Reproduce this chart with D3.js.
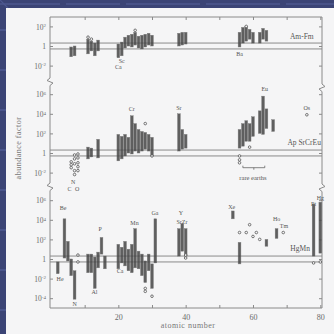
<!DOCTYPE html>
<html><head><meta charset="utf-8">
<script src="https://cdn.jsdelivr.net/npm/d3@7"></script>
<style>html,body{margin:0;padding:0;background:#3b4475;}svg{display:block;}</style>
</head><body>
<svg id="c" width="334" height="334"></svg>
<script>
// ---------- DATA ----------
const panelNames = ["Am-Fm", "Ap SrCrEu", "HgMn"];
const xTickValues = [10, 20, 30, 40, 50, 60, 70, 80];
const xTickLabels = ["", "20", "", "40", "", "60", "", "80"];
const yTicksTop = [2, 0, -2];
const yTicksMid = [6, 4, 2, 0, -2];
const yTicksBot = [6, 4, 2, 0, -2, -4];
// columns: [atomic number, lowest log10 factor, highest log10 factor]
const colsTop = [[6,-1.0,-0.2],[7,-0.9,-0.1],
  [11,-0.7,0.6],[12,-0.4,0.4],[13,-0.9,0.2],[14,-0.4,0.5],
  [20,-1.1,0.1],[21,-0.9,0.3],
  [22,-0.1,0.8],[23,0.1,1.0],[24,0.0,1.1],[25,0.2,1.3],[26,-0.1,0.9],[27,-0.2,1.0],[28,0.0,1.1],[29,0.2,1.2],[30,0.1,1.0],
  [38,0.1,1.2],[39,0.2,1.3],[40,0.3,1.3],
  [56,0.0,1.3],[57,0.4,1.8],[58,0.6,1.9],[59,0.8,1.6],[60,0.4,1.3],
  [62,0.4,1.3],[63,0.8,1.7],[64,0.6,1.5]];
const colsMid = [[11,-0.5,0.5],[12,-0.3,0.4],[14,-0.4,1.3],
  [20,-0.7,1.8],[21,-0.5,1.6],[22,-0.2,1.8],[23,0.1,1.5],[24,0.0,3.7],[25,0.3,2.9],[26,0.1,2.3],[27,0.3,2.1],[28,0.5,2.0],[29,0.3,1.8],[30,-0.2,1.5],
  [38,0.3,3.9],[39,0.5,2.3],[40,0.6,1.8],
  [56,0.6,2.3],[57,0.8,2.9],[58,1.3,3.2],[59,1.3,2.9],[60,1.8,3.6],[62,2.1,4.2],[63,2.0,5.7],[64,2.6,4.4],[66,2.3,3.3]];
const colsBot = [[2,-1.4,-0.4],[4,0.2,4.0],[5,-0.1,1.7],[6,-1.6,-0.1],[7,-4.0,-1.3],
  [11,-1.3,0.4],[12,-1.3,0.4],[13,-2.9,0.1],[14,-0.8,0.6],[15,0.6,2.1],[16,-0.9,0.2],
  [20,-0.9,1.4],[21,-0.3,1.1],[22,-0.6,1.7],[23,-1.1,0.9],[24,-1.3,1.4],[25,-0.8,3.0],[26,-0.9,0.7],[27,-1.6,0.4],[28,-2.3,-0.3],[29,-1.1,0.4],[30,-2.9,-0.6],[31,-0.3,4.0],
  [38,0.4,3.0],[39,0.9,3.5],[40,0.4,3.0],
  [54,4.2,4.8],[56,-0.4,1.6],[64,1.4,1.9],[67,2.2,3.0],[78,0.4,5.5],[80,0.7,5.7]];
// single stars: [atomic number, log10 factor]
const ptsTop = [[11,0.9],[12,0.7],[25,1.6],[58,2.0]];
const ptsMid = [[6,-0.9],[6,-1.2],[6,-1.5],[7,-0.2],[7,-0.6],[7,-1.1],[7,-1.8],[7,-2.2],[8,-0.1],[8,-0.5],[8,-1.0],[8,-1.4],[8,-1.8],
  [28,3.0],[30,-0.3],[56,-0.3],[56,-0.7],[56,-1.0],[59,0.6],[76,3.9]];
const ptsBot = [[8,0.4],[8,-0.3],[28,-3.0],[28,-3.3],[30,-3.8],[56,2.7],[59,3.5],[58,2.7],[61,2.7],[60,2.3],[62,2.0],[40,0.4],[40,0.1],[69,2.7],[78,-0.4],[80,-0.3]];
// element labels: [text, atomic number, log10 factor]
const labTop = [["Sc",21,-1.5],["Ca",20,-2.1],["Ba",56,-0.8]];
const labMid = [["Cr",24,4.5],["Sr",38,4.6],["Eu",63.5,6.5],["Os",76,4.6],["C",5.5,-3.7],["N",6.6,-2.9],["O",7.8,-3.7],["rare earths",60,-2.55]];
const labBot = [["Be",3.6,5.2],["He",2.7,-2.0],["N",7,-4.6],["Al",12.9,-3.4],["P",14.6,3.1],["Ca",20.5,-1.2],["Mn",24.8,3.7],["Ga",30.9,4.7],
  ["Y",38.6,4.7],["SrZr",38.9,3.8],["Xe",53.7,5.3],["Ho",67,4.1],["Tm",69.2,3.4],["Pt",78,5.6],["Hg",80,6.2]];
const rareEarthSpan = [57, 63.5, -1.5];
const xTitle = "atomic number";
const yTitle = "abundance factor";

// ---------- LAYOUT ----------
const svg = d3.select("#c");
const L = 50, R = 322, T = 17, B = 308;
const dec = 9.8;
const panelUnity = [46, 153, 259];
const panelDomains = [[-3, 3], [-4, 7], [-5, 7]];
const ys = panelUnity.map((u, i) => d3.scaleLog()
  .domain(panelDomains[i].map(e => Math.pow(10, e)))
  .range(panelDomains[i].map(e => u - dec * e)));
const x = d3.scaleLinear().domain([0, 80.5]).range([L + 1, R]);
const P = e => Math.pow(10, e);
const FONT = "Liberation Serif, serif";

// background
svg.append("rect").attr("width", 334).attr("height", 334).attr("fill", "#3b4475");
const bg = svg.append("g").attr("stroke", "#56619a").attr("stroke-width", 1.2);
[[0,4,60,4],[66,4,120,4],[126,4,200,4],[206,4,280,4],[286,4,334,4]].forEach(s=>bg.append("line").attr("x1",s[0]).attr("y1",s[1]).attr("x2",s[2]).attr("y2",s[3]));
[30,70,110,150,190,230,270,310].forEach(yy=>bg.append("line").attr("x1",0).attr("x2",6).attr("y1",yy).attr("y2",yy));
bg.append("line").attr("x1",0).attr("y1",0).attr("x2",8).attr("y2",8).attr("stroke","#4d5890");
svg.append("rect").attr("x", 6).attr("y", 8).attr("width", 328).attr("height", 326).attr("fill", "#f5f5f6");

const frame = svg.append("g").attr("fill", "none").attr("stroke", "#8a8a8a").attr("stroke-width", 1);
frame.append("line").attr("x1", L).attr("x2", R).attr("y1", T).attr("y2", T);
frame.append("line").attr("x1", L).attr("x2", R).attr("y1", B).attr("y2", B);
function axisWithBreaks(xx, breaks, dir) {
  let d = `M${xx},${T}`;
  breaks.forEach(b => {
    d += `L${xx},${b}L${xx + 3*dir},${b + 2.5}L${xx - 3*dir},${b + 5}L${xx},${b + 7.5}`;
  });
  d += `L${xx},${B}`;
  frame.append("path").attr("d", d);
}
axisWithBreaks(L, [78, 183], -1);
axisWithBreaks(R, [84, 184], 1);

const xb = svg.append("g").attr("transform", `translate(0,${B})`)
  .call(d3.axisBottom(x).tickValues(xTickValues).tickSizeInner(-3).tickSizeOuter(0).tickPadding(6)
    .tickFormat((d, i) => xTickLabels[i]));
const xt = svg.append("g").attr("transform", `translate(0,${T})`)
  .call(d3.axisTop(x).tickValues(xTickValues).tickSizeInner(-3).tickSizeOuter(0).tickFormat(""));
[xb, xt].forEach(g => {
  g.select(".domain").remove();
  g.selectAll("line").attr("stroke", "#8a8a8a");
  g.selectAll("text").attr("fill", "#6a6a6a").attr("font-family", FONT).attr("font-size", 8);
});

const yTickSets = [yTicksTop, yTicksMid, yTicksBot];
ys.forEach((y, i) => {
  const gl = svg.append("g").attr("transform", `translate(${L},0)`)
    .call(d3.axisLeft(y).tickValues(yTickSets[i].map(P)).tickSizeInner(-3).tickSizeOuter(0).tickPadding(5).tickFormat(""));
  const gr = svg.append("g").attr("transform", `translate(${R},0)`)
    .call(d3.axisRight(y).tickValues(yTickSets[i].map(P)).tickSizeInner(-3).tickSizeOuter(0).tickFormat(""));
  [gl, gr].forEach(g => { g.select(".domain").remove(); g.selectAll("line").attr("stroke", "#8a8a8a"); });
  gl.selectAll(".tick").each(function(d) {
    const e = Math.round(Math.log10(d));
    const t = d3.select(this).append("text").attr("x", -4).attr("dy", "0.35em")
      .attr("text-anchor", "end").attr("fill", "#6a6a6a")
      .attr("font-family", FONT).attr("font-size", 7.5);
    if (e === 0) t.text("1");
    else {
      t.append("tspan").text("10");
      t.append("tspan").attr("dy", "-0.45em").attr("font-size", 5).text(e);
    }
  });
  [-0.3, 0.3].forEach(o => svg.append("line").attr("x1", L).attr("x2", R)
    .attr("y1", y(P(o))).attr("y2", y(P(o))).attr("stroke", "#8a8a8a").attr("stroke-width", 1));
});

// columns (stacked symbols look)
const colSets = [colsTop, colsMid, colsBot];
colSets.forEach((cols, i) => {
  const y = ys[i];
  svg.append("g").selectAll("rect").data(cols).join("rect")
    .attr("x", d => x(d[0]) - 1.4).attr("width", 2.8)
    .attr("y", d => y(P(d[2])) - 1).attr("height", d => y(P(d[1])) - y(P(d[2])) + 2)
    .attr("fill", "#454545").attr("stroke", "#6a6a6a").attr("stroke-width", 0.4).attr("opacity", 0.85);
});
[ptsTop, ptsMid, ptsBot].forEach((pts, i) => {
  const y = ys[i];
  svg.append("g").selectAll("circle").data(pts).join("circle")
    .attr("cx", d => x(d[0])).attr("cy", d => y(P(d[1]))).attr("r", 1.3)
    .attr("fill", "#f5f5f6").attr("stroke", "#555").attr("stroke-width", 0.8);
});
[labTop, labMid, labBot].forEach((labs, i) => {
  const y = ys[i];
  svg.append("g").selectAll("text").data(labs).join("text")
    .attr("x", d => x(d[1])).attr("y", d => y(P(d[2]))).attr("dy", "0.35em")
    .attr("text-anchor", "middle").attr("fill", "#555")
    .attr("font-family", FONT).attr("font-size", d => d[0] === "rare earths" ? 6.5 : 6)
    .text(d => d[0]);
});
{
  const y = ys[1], yy = y(P(rareEarthSpan[2])), x0 = x(rareEarthSpan[0]), x1 = x(rareEarthSpan[1]);
  svg.append("path").attr("d", `M${x0},${yy - 2}L${x0},${yy}L${x1},${yy}L${x1},${yy - 2}M${(x0 + x1) / 2},${yy}L${(x0 + x1) / 2},${yy + 2}`)
    .attr("fill", "none").attr("stroke", "#666").attr("stroke-width", 0.8);
}
const namePos = [[74.5, 1.0], [75.2, 1.1], [74.0, 1.1]];
panelNames.forEach((n, i) => {
  svg.append("text").attr("x", x(namePos[i][0])).attr("y", ys[i](P(namePos[i][1]))).attr("dy", "0.35em")
    .attr("text-anchor", "middle").attr("fill", "#555")
    .attr("font-family", FONT).attr("font-size", 7.5).text(n);
});
svg.append("text").attr("x", 188).attr("y", 328).attr("text-anchor", "middle").attr("fill", "#777")
  .attr("font-family", FONT).attr("font-size", 8).attr("letter-spacing", 0.5).text(xTitle);
svg.append("text").attr("transform", "translate(21,148) rotate(-90)").attr("text-anchor", "middle").attr("fill", "#777")
  .attr("font-family", FONT).attr("font-size", 8).attr("letter-spacing", 0.5).text(yTitle);
</script>
</body></html>
